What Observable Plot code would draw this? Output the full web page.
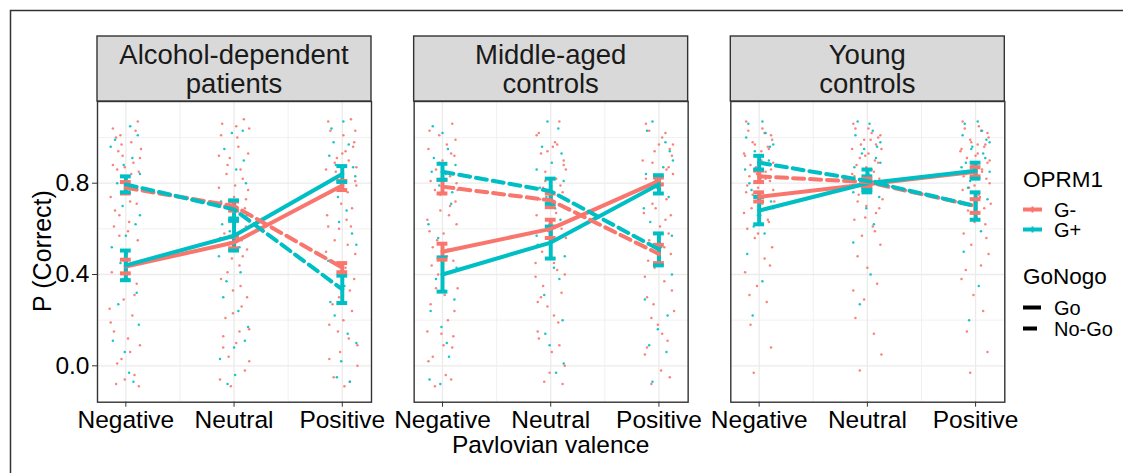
<!DOCTYPE html>
<html><head><meta charset="utf-8">
<script src="https://cdn.jsdelivr.net/npm/d3@7"></script>
<script src="https://cdn.jsdelivr.net/npm/@observablehq/plot@0.6"></script>
<style>body{margin:0;background:#fff} #chart{width:1123px;height:473px}</style>
</head><body><div id="chart"></div>
<script>
// ---------- data ----------
const groups = ["Alcohol-dependent patients", "Middle-aged controls", "Young controls"];
const stripLabels = [["Alcohol-dependent", "patients"], ["Middle-aged", "controls"], ["Young", "controls"]];
const valence = ["Negative", "Neutral", "Positive"];
const genotypes = ["G-", "G+"];
const conditions = ["Go", "No-Go"];
const yTicks = [0.0, 0.4, 0.8];
const yMinor = [0.2, 0.6, 1.0];

// means / standard errors: [group][valence]
const meanGoGm   = [[0.435, 0.54, 0.79], [0.50, 0.60, 0.81], [0.74, 0.795, 0.85]];
const seGoGm     = [[0.03, 0.025, 0.02], [0.035, 0.04, 0.015], [0.02, 0.015, 0.02]];
const meanGoGp   = [[0.44, 0.57, 0.84], [0.40, 0.54, 0.795], [0.68, 0.80, 0.855]];
const seGoGp     = [[0.065, 0.065, 0.035], [0.075, 0.07, 0.04], [0.06, 0.03, 0.035]];
const meanNoGoGm = [[0.78, 0.70, 0.43], [0.785, 0.725, 0.49], [0.83, 0.805, 0.70]];
const seNoGoGm   = [[0.025, 0.02, 0.02], [0.03, 0.03, 0.04], [0.025, 0.015, 0.03]];
const meanNoGoGp = [[0.795, 0.685, 0.335], [0.85, 0.765, 0.51], [0.89, 0.81, 0.70]];
const seNoGoGp   = [[0.035, 0.04, 0.06], [0.035, 0.055, 0.07], [0.03, 0.05, 0.06]];

// individual (jittered) observations: "dx y" in hundredths, [group][valence]
const dotsGm = [
 ["-12 104,5 98,-3 92,11 107,-8 86,14 95,0 81,-14 74,7 89,-5 101,9 77,-10 68,3 63,12 85,-6 57,1 49,-13 41,10 36,-2 29,6 22,-11 15,13 9,-4 3,8 -4,-9 -8,2 12,-15 25,11 55,-7 94,4 72,-9 100,13 91,-1 87,6 79,-12 88,10 71,-6 66,2 59,14 46,-3 38,8 31,-14 19,4 6,-8 1,12 -9,-1 -6,9 103,-11 61,5 84,-4 97",
  "-11 106,3 100,13 93,-6 88,8 82,-14 78,0 74,10 69,-3 65,-9 58,12 51,5 44,-12 38,-1 33,7 26,-8 21,14 16,2 10,-5 4,10 -2,-13 -6,4 96,-7 84,11 61,-2 47,6 35,-10 13,1 79,14 104,-4 54,9 108,-12 101,-4 91,6 86,13 77,-9 70,1 63,-13 56,8 48,-6 41,12 30,-1 23,5 15,-10 8,14 2,-3 -9,7 55,-14 92,2 105,11 73",
  "-13 107,1 101,10 96,-5 91,13 87,-9 82,5 76,-1 71,-14 66,8 61,-7 55,12 49,3 43,-11 37,-3 30,9 24,-12 18,6 12,-2 6,14 0,-8 -5,2 -9,11 98,-6 85,4 64,-15 50,7 33,-4 15,13 79,0 93,8 108,-11 103,3 94,-7 89,12 81,-2 77,9 69,-13 61,5 53,-5 45,11 38,-9 27,1 20,14 9,-12 3,7 -7,-3 60,12 103,-15 86,6 90"],
 ["-12 103,4 97,11 92,-6 86,13 80,-2 75,7 70,-14 64,1 58,-9 52,10 46,-4 40,14 34,-11 27,5 20,-1 14,9 8,-13 2,3 -4,-7 -9,12 99,-3 89,6 66,-10 44,2 31,14 77,-5 55,8 93,9 106,-13 95,0 90,7 83,-7 77,12 72,-2 68,-12 59,5 51,-6 34,11 24,-14 15,1 9,8 -6,-9 4,13 62,-3 101,4 48,-11 81,10 13",
  "-13 101,2 96,12 90,-5 85,9 79,-10 73,5 67,-1 62,14 56,-8 50,3 45,-14 39,10 32,-3 26,7 19,-11 12,1 6,13 0,-6 -7,4 98,-9 93,11 76,-2 59,6 42,-12 28,14 86,0 71,-7 35,8 107,-11 102,-3 94,12 88,5 82,-7 78,1 73,-13 66,10 60,-4 53,13 40,-9 30,3 22,-12 15,8 9,-1 -3,11 -8,-5 81,6 97,-14 45",
  "-12 106,3 100,10 95,-6 89,13 84,-2 78,7 73,-14 67,1 61,-9 55,11 49,-4 43,5 37,-11 30,14 24,-1 18,8 11,-13 5,2 -2,-7 -8,12 92,-3 81,6 64,-10 46,0 97,9 58,-5 27,-9 103,6 102,13 97,-4 94,9 87,-12 82,2 79,-6 71,11 66,-1 58,5 52,-13 39,12 33,-7 21,3 14,10 -5,-11 8,-3 69,7 86,-15 90"],
 ["-12 107,3 104,11 101,-6 98,8 96,-14 93,0 91,13 89,-3 87,6 85,-9 83,10 81,-1 78,-12 76,4 74,14 72,-7 69,1 66,9 63,-11 60,-4 56,12 52,5 47,-13 41,-2 35,7 28,-8 18,11 8,-5 -3,2 94,-10 103,5 102,12 99,-4 97,9 95,-13 92,2 90,-8 88,11 86,-2 84,6 82,-11 79,13 77,-6 75,3 71,-14 67,8 64,-1 58,10 44,-9 31",
  "-13 106,1 104,10 100,-6 97,13 95,-2 92,7 90,-10 88,4 86,-14 84,11 82,-4 80,2 77,-8 75,14 73,-1 70,8 67,-12 64,5 61,-5 57,12 53,-9 48,0 43,9 36,-3 29,-11 21,6 14,13 5,-7 -2,3 99,-11 104,4 102,12 101,-3 99,8 97,-14 95,1 93,-7 91,10 89,-1 87,6 85,-12 83,13 81,-5 78,3 76,-9 72,11 69,-2 65,7 59,-13 33",
  "-12 107,3 105,11 102,-5 99,8 96,-14 94,0 92,13 90,-3 88,6 86,-9 84,10 82,-1 79,-12 77,4 74,14 71,-7 68,1 65,9 62,-11 58,-4 53,12 49,5 44,-13 38,-2 31,7 24,-8 15,11 6,-5 -3,2 97,-10 104,5 103,12 100,-4 98,9 97,-13 95,2 93,-8 91,11 89,-2 87,6 85,-11 83,13 80,-6 78,3 75,-14 72,8 69,-1 63,10 56,-9 42"]
];
const dotsGp = [
 ["-10 99,6 91,13 84,-3 70,9 62,-13 52,2 38,-7 27,12 18,-1 6,7 -7,-14 96,4 105,-5 45,11 101,-8 80,0 57,10 32,-12 11,3 -3,-2 88,13 66",
  "8 103,-9 95,2 86,-12 72,12 66,-4 59,6 41,-10 30,13 17,0 8,-6 -8,9 90,-14 48,4 24,-2 102,11 80,-11 62,5 52,-7 37,10 11,-13 3,1 -4",
  "-10 104,6 97,12 83,-4 74,9 58,-13 46,2 35,-7 22,13 10,-1 2,7 -7,-12 92,4 68,-6 88,1 107,-8 98,10 87,-3 63,13 53,-11 28,5 14,-5 -5"],
 ["-9 105,5 95,12 88,-3 79,8 71,-13 62,1 50,-6 38,11 29,-1 17,6 4,-12 -6,3 84,-8 91,0 102,-10 85,9 76,-4 56,13 43,-11 24,4 10,-2 -8",
  "7 104,-8 96,1 89,12 81,-4 74,9 64,-12 53,3 43,-6 31,11 20,-1 9,5 -3,-13 86,13 48,-3 107,10 93,-10 78,4 69,-13 57,8 38,-5 14,12 1",
  "-11 103,6 98,13 90,-3 82,9 74,-8 63,2 52,12 40,-13 29,-1 16,7 6,-6 -7,4 87,-14 69,-6 107,10 94,-12 84,1 77,12 57,-4 45,8 22,-9 9"],
 ["-10 106,6 102,13 97,-4 94,9 90,-13 86,1 82,-7 77,11 72,-1 66,5 58,-11 49,3 37,-6 22,3 107,-12 100,10 96,-2 92,7 88,-9 80,13 69,-5 61",
  "-9 107,5 103,12 98,-3 95,8 91,-12 87,1 84,-6 79,11 74,-1 69,6 62,-13 54,3 40,-7 27,2 106,-11 101,9 96,-5 93,12 89,-2 86,7 81,-13 76",
  "-10 106,6 103,13 98,-4 95,9 91,-13 87,1 83,-7 78,11 73,-1 67,5 59,-11 50,3 35,-6 20,2 107,-12 101,10 99,-3 96,7 93,-9 89,13 85,-5 81"]
];

// ---------- tables ----------
const series = [
  ["G-", "Go", meanGoGm, seGoGm], ["G+", "Go", meanGoGp, seGoGp],
  ["G-", "No-Go", meanNoGoGm, seNoGoGm], ["G+", "No-Go", meanNoGoGp, seNoGoGp]
];
const rows = [];
series.forEach(([geno, cond, m, s]) => groups.forEach((g, gi) => valence.forEach((v, vi) => {
  rows.push({group: g, v: vi, geno, cond, mean: m[gi][vi], se: s[gi][vi]});
})));
const dots = [];
[["G-", dotsGm], ["G+", dotsGp]].forEach(([geno, arr]) => arr.forEach((cols, gi) => cols.forEach((str, vi) => {
  str.split(",").forEach(tok => {
    const [dx, y] = tok.trim().split(" ").map(Number);
    dots.push({group: groups[gi], x: vi + dx / 100, y: y / 100, geno});
  });
})));
// interleave draw order so red and teal overlap naturally
dots.sort((a, b) => (a.y * 37 % 1) - (b.y * 37 % 1));

const RED = "#F8766D", TEAL = "#00BFC4";
const FONT = "'Liberation Sans', Arial, Helvetica, sans-serif";
const go = rows.filter(d => d.cond === "Go");
const nogo = rows.filter(d => d.cond === "No-Go");
const capW = 0.05;

const chart = Plot.plot({
  width: 1123, height: 473,
  marginLeft: 97, marginRight: 118.7, marginTop: 101, marginBottom: 71.3,
  style: {fontFamily: FONT, background: "#fff", color: "#000"},
  fx: {domain: groups, paddingInner: 0.1347, paddingOuter: 0, round: false, axis: null},
  x: {domain: [-0.262, 2.27], axis: null},
  y: {domain: [-0.1594, 1.158], axis: null},
  color: {domain: genotypes, range: [RED, TEAL]},
  marks: [
    Plot.ruleY(yMinor, {stroke: "#EBEBEB", strokeWidth: 0.7}),
    Plot.ruleX([0.5, 1.5], {stroke: "#EBEBEB", strokeWidth: 0.7}),
    Plot.ruleY(yTicks, {stroke: "#EBEBEB", strokeWidth: 1.3}),
    Plot.ruleX([0, 1, 2], {stroke: "#EBEBEB", strokeWidth: 1.3}),
    Plot.dot(dots, {fx: "group", x: "x", y: "y", fill: "geno", r: 1.25, fillOpacity: 0.9}),
    Plot.ruleX(rows, {fx: "group", x: "v", y1: d => d.mean - d.se, y2: d => d.mean + d.se, stroke: "geno", strokeWidth: 4}),
    Plot.ruleY(rows, {fx: "group", y: d => d.mean + d.se, x1: d => d.v - capW, x2: d => d.v + capW, stroke: "geno", strokeWidth: 4}),
    Plot.ruleY(rows, {fx: "group", y: d => d.mean - d.se, x1: d => d.v - capW, x2: d => d.v + capW, stroke: "geno", strokeWidth: 4}),
    Plot.line(go, {fx: "group", x: "v", y: "mean", z: "geno", stroke: "geno", strokeWidth: 4}),
    Plot.line(nogo, {fx: "group", x: "v", y: "mean", z: "geno", stroke: "geno", strokeWidth: 4, strokeDasharray: "11,6"}),
    Plot.frame({stroke: "#333", strokeWidth: 1.4}),
    Plot.axisX({ticks: [0, 1, 2], tickFormat: i => valence[i], tickSize: 5, tickPadding: 3, fontSize: 24.5, stroke: "#333", label: null, fill: "#000"}),
    Plot.axisY({ticks: yTicks, tickFormat: d3.format(".1f"), tickSize: 5, tickPadding: 3, fontSize: 24.5, stroke: "#333", label: null, fill: "#000"})
  ]
});
document.getElementById("chart").appendChild(chart);

// ---------- strips, titles, legend ----------
const svg = d3.select(chart);
const fx = chart.scale("fx");
const bw = fx.bandwidth;
groups.forEach((g, i) => {
  const x0 = fx.apply(g);
  svg.append("rect").attr("x", x0).attr("y", 36).attr("width", bw).attr("height", 65)
    .attr("fill", "#D9D9D9").attr("stroke", "#333").attr("stroke-width", 1.4);
  stripLabels[i].forEach((t, j) => {
    svg.append("text").attr("x", x0 + bw / 2).attr("y", 64 + j * 29)
      .attr("text-anchor", "middle").attr("font-size", 27.5).attr("font-family", FONT)
      .attr("fill", "#1a1a1a").text(t);
  });
});
const xMid = fx.apply(groups[0]) + (fx.apply(groups[2]) + bw - fx.apply(groups[0])) / 2;
svg.append("text").attr("x", xMid).attr("y", 453).attr("text-anchor", "middle")
  .attr("font-size", 24.5).attr("font-family", FONT).attr("fill", "#000").text("Pavlovian valence");
svg.append("text").attr("transform", "translate(51,251) rotate(-90)").attr("text-anchor", "middle")
  .attr("font-size", 25).attr("font-family", FONT).attr("fill", "#000").text("P (Correct)");

// outer border
svg.append("path").attr("d", "M10.5,473 V10.5 H1123").attr("fill", "none").attr("stroke", "#333").attr("stroke-width", 1.5);

// legend
const lg = svg.append("g").attr("font-family", FONT).attr("text-anchor", "start");
lg.append("text").attr("x", 1023).attr("y", 187).attr("font-size", 22.5).attr("fill", "#000").text("OPRM1");
genotypes.forEach((g, i) => {
  const y = 209.5 + i * 20;
  const c = i === 0 ? RED : TEAL;
  lg.append("line").attr("x1", 1023).attr("x2", 1042).attr("y1", y).attr("y2", y).attr("stroke", c).attr("stroke-width", 4);
  lg.append("line").attr("x1", 1032.5).attr("x2", 1032.5).attr("y1", y - 3).attr("y2", y + 3).attr("stroke", c).attr("stroke-width", 2);
  lg.append("text").attr("x", 1054).attr("y", y).attr("dy", "0.35em").attr("font-size", 20).attr("fill", "#000").text(g);
});
lg.append("text").attr("x", 1023).attr("y", 283.5).attr("font-size", 22.5).attr("fill", "#000").text("GoNogo");
conditions.forEach((c, i) => {
  const y = 307.5 + i * 21;
  lg.append("line").attr("x1", 1023).attr("x2", i === 0 ? 1041 : 1037).attr("y1", y).attr("y2", y)
    .attr("stroke", "#000").attr("stroke-width", 4);
  lg.append("text").attr("x", 1054).attr("y", y).attr("dy", "0.35em").attr("font-size", 20).attr("fill", "#000").text(c);
});
</script>
</body></html>
